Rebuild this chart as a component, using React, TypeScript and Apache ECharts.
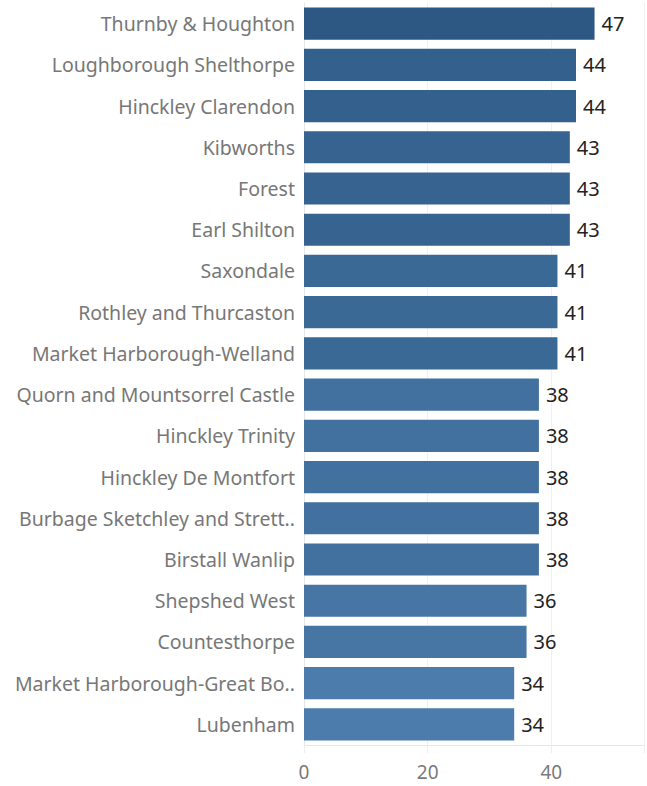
import React, { useEffect, useRef } from "react";
import * as echarts from "echarts";

const categories = [
  "Thurnby & Houghton",
  "Loughborough Shelthorpe",
  "Hinckley Clarendon",
  "Kibworths",
  "Forest",
  "Earl Shilton",
  "Saxondale",
  "Rothley and Thurcaston",
  "Market Harborough-Welland",
  "Quorn and Mountsorrel Castle",
  "Hinckley Trinity",
  "Hinckley De Montfort",
  "Burbage Sketchley and Strett..",
  "Birstall Wanlip",
  "Shepshed West",
  "Countesthorpe",
  "Market Harborough-Great Bo..",
  "Lubenham",
];
const values = [47, 44, 44, 43, 43, 43, 41, 41, 41, 38, 38, 38, 38, 38, 36, 36, 34, 34];
const xTicks = [0, 20, 40];

export default function App() {
  const ref = useRef<HTMLDivElement>(null);
  useEffect(() => {
    if (!ref.current) return;
    const chart = echarts.init(ref.current, undefined, { renderer: "svg" });
    const font = "'Noto Sans', sans-serif";
    chart.setOption({
      animation: false,
      backgroundColor: "#ffffff",
      grid: { left: 304, right: 0, top: 3, bottom: 41, containLabel: false },
      visualMap: {
        show: false,
        type: "continuous",
        dimension: 0,
        min: 34,
        max: 47,
        inRange: { color: ["#4c7cab", "#2c5883"] },
      },
      xAxis: {
        type: "value",
        min: 0,
        max: 55,
        interval: 20,
        axisLine: { show: true, lineStyle: { color: "#e6e6e6" } },
        axisTick: { show: true, length: 8, lineStyle: { color: "#eeeeee" } },
        splitLine: { show: true, lineStyle: { color: "#f0f0f0" } },
        axisLabel: {
          color: "#7a7a7a",
          fontFamily: font,
          fontSize: 19,
          margin: 17,
          formatter: (v: number) => (xTicks.includes(v) ? String(v) : ""),
        },
      },
      yAxis: {
        type: "category",
        inverse: true,
        data: categories,
        axisLine: { show: true, lineStyle: { color: "#e6e6e6" } },
        axisTick: { show: false },
        axisLabel: {
          color: "#777777",
          fontFamily: font,
          fontSize: 19.5,
          margin: 9,
        },
      },
      series: [
        {
          type: "bar",
          data: values,
          barCategoryGap: "22%",
          label: {
            show: true,
            position: "right",
            distance: 7,
            color: "#222222",
            fontFamily: font,
            fontSize: 20,
          },
        },
      ],
    });
    return () => chart.dispose();
  }, []);
  return (
    <div
      ref={ref}
      style={{ position: "fixed", left: 0, top: 0, width: 647, height: 786 }}
    />
  );
}
